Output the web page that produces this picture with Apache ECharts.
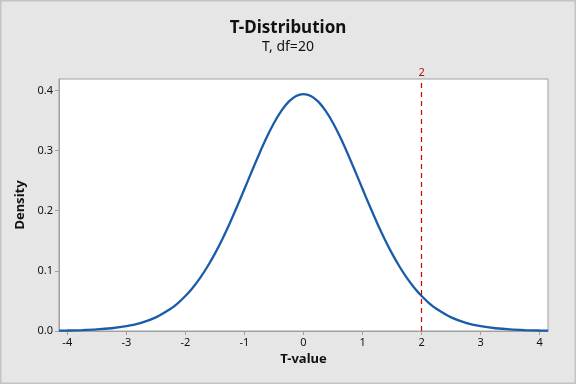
<!DOCTYPE html>
<html>
<head>
<meta charset="utf-8">
<script src="https://cdn.jsdelivr.net/npm/echarts@6/dist/echarts.min.js"></script>
<style>
html,body{margin:0;padding:0;background:#e6e6e6;}
#chart{width:576px;height:384px;}
</style>
</head>
<body>
<div id="chart"></div>
<script>
// T-values (x) and density readings from the reference curve
const tValues = [-4.14,-4,-3.75,-3.5,-3.25,-3,-2.75,-2.5,-2.25,-2.125,-2,-1.875,-1.75,-1.625,-1.5,-1.375,-1.25,-1.125,-1,-0.875,-0.75,-0.625,-0.5,-0.375,-0.25,-0.125,0,0.125,0.25,0.375,0.5,0.625,0.75,0.875,1,1.125,1.25,1.375,1.5,1.625,1.75,1.875,2,2.125,2.25,2.5,2.75,3,3.25,3.5,3.75,4,4.14];
const density = [0.0006,0.0008,0.0015,0.0026,0.0046,0.0080,0.0136,0.0227,0.0369,0.0465,0.0581,0.0720,0.0883,0.1072,0.1286,0.1526,0.1788,0.2069,0.2360,0.2656,0.2944,0.3216,0.3458,0.3660,0.3813,0.3908,0.3940,0.3908,0.3813,0.3660,0.3458,0.3216,0.2944,0.2656,0.2360,0.2069,0.1788,0.1526,0.1286,0.1072,0.0883,0.0720,0.0581,0.0465,0.0369,0.0227,0.0136,0.0080,0.0046,0.0026,0.0015,0.0008,0.0006];
const xTicks = [-4,-3,-2,-1,0,1,2,3,4];
const yTicks = [0,0.1,0.2,0.3,0.4];
const criticalValue = 2;
const titleText = 'T-Distribution';
const subtitleText = 'T, df=20';

const font = 'Noto Sans';
const chart = echarts.init(document.getElementById('chart'));
chart.setOption({
  backgroundColor: '#e6e6e6',
  animation: false,
  title: {
    text: titleText,
    subtext: subtitleText,
    left: 'center',
    top: 15,
    itemGap: 3,
    textStyle: {fontFamily: font, fontSize: 17, fontWeight: 'bold', color: '#111'},
    subtextStyle: {fontFamily: font, fontSize: 14, color: '#111'}
  },
  graphic: [{
    type: 'rect', shape: {x: 0.5, y: 0.5, width: 575, height: 383},
    style: {fill: 'none', stroke: '#c4c4c4', lineWidth: 2}, silent: true
  }],
  grid: {
    left: 59, right: 28, top: 79, bottom: 53,
    show: true, backgroundColor: '#ffffff', borderColor: '#a0a0a0', borderWidth: 1
  },
  xAxis: {
    type: 'value', min: -4.14, max: 4.14,
    name: 'T-value', nameLocation: 'middle', nameGap: 22,
    nameTextStyle: {fontFamily: font, fontSize: 13, fontWeight: 'bold', color: '#111'},
    axisLine: {show: true, onZero: false, lineStyle: {color: '#a0a0a0'}},
    axisTick: {show: true, length: 4, lineStyle: {color: '#a0a0a0'}, customValues: xTicks},
    axisLabel: {fontFamily: font, fontSize: 11, color: '#111', margin: 6, customValues: xTicks,
      formatter: v => String(v)},
    splitLine: {show: false}
  },
  yAxis: {
    type: 'value', min: 0, max: 0.419,
    name: 'Density', nameLocation: 'middle', nameGap: 31,
    nameTextStyle: {fontFamily: font, fontSize: 13, fontWeight: 'bold', color: '#111'},
    axisLine: {show: true, onZero: false, lineStyle: {color: '#a0a0a0'}},
    axisTick: {show: true, length: 4, lineStyle: {color: '#a0a0a0'}, customValues: yTicks},
    axisLabel: {fontFamily: font, fontSize: 11, color: '#111', margin: 6, customValues: yTicks,
      formatter: v => v.toFixed(1)},
    splitLine: {show: false}
  },
  series: [{
    type: 'line',
    data: tValues.map((t, i) => [t, density[i]]),
    smooth: 0.3,
    showSymbol: false,
    lineStyle: {color: '#1a5ca8', width: 2.3},
    markLine: {
      silent: true,
      symbol: ['none', 'none'],
      lineStyle: {color: '#d00000', type: [5, 4], width: 1.2, opacity: 1},
      emphasis: {disabled: true},
      label: {show: true, position: 'end', formatter: String(criticalValue), color: '#b01010',
        fontFamily: font, fontSize: 11, distance: 1},
      data: [{xAxis: criticalValue}]
    }
  }]
});
</script>
</body>
</html>
